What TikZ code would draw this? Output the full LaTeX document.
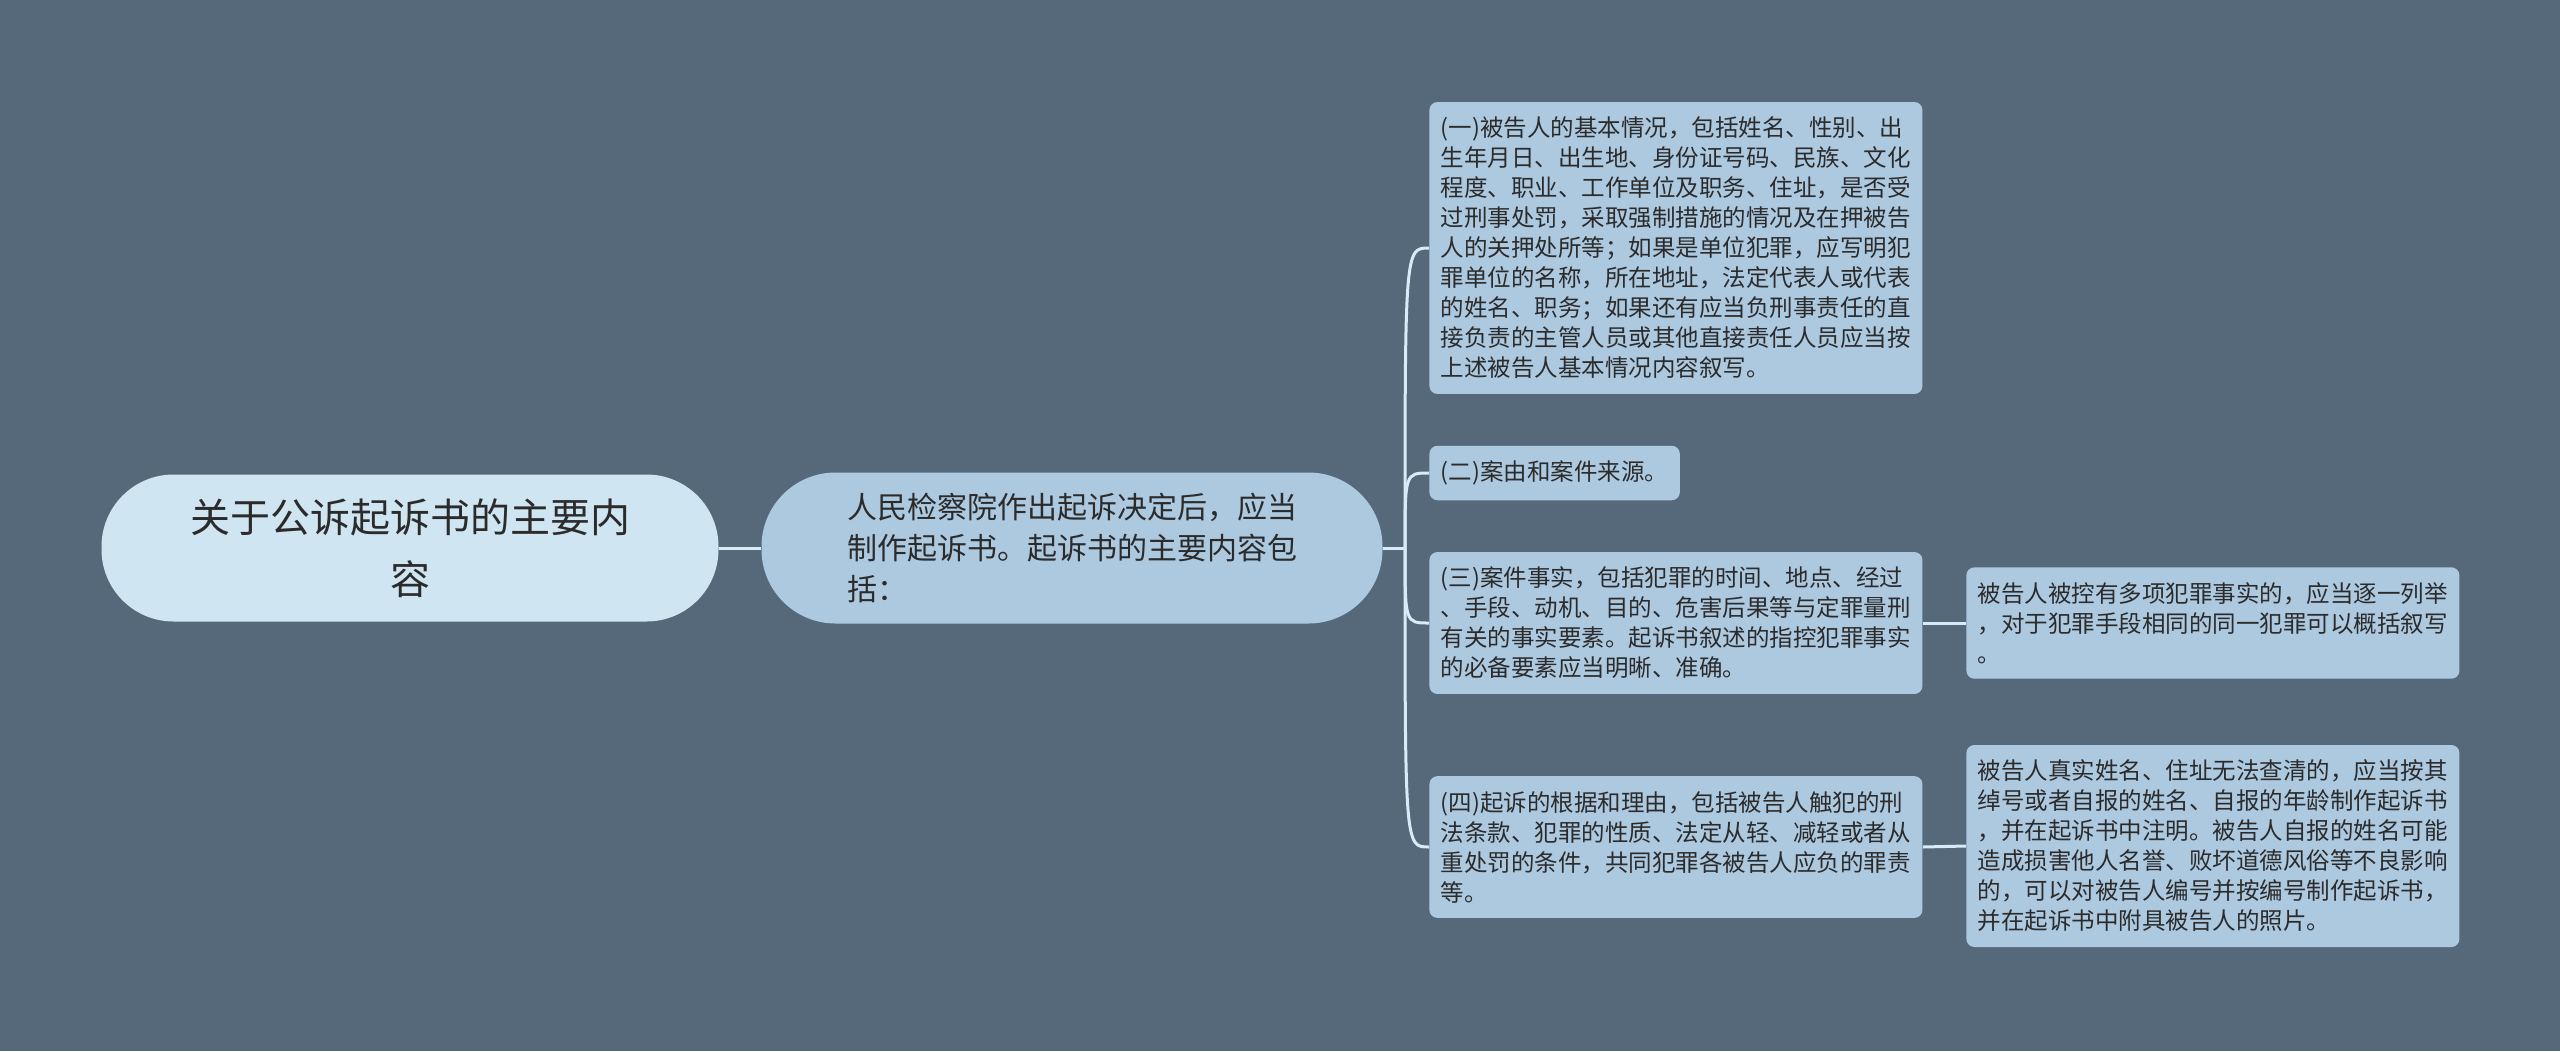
\documentclass[tikz,border=0pt]{standalone}
\usepackage{fontspec}
\setmainfont{Noto Sans CJK SC}
\definecolor{canvas}{HTML}{55697A}
\definecolor{rootfill}{HTML}{CFE5F2}
\definecolor{leaf}{HTML}{ADC9E0}
\definecolor{wire}{HTML}{D6ECF7}
\definecolor{ink}{HTML}{2B2B2B}

\begin{document}
\begin{tikzpicture}[x=0.5pt,y=-0.5pt,
    link/.style={draw=wire,line width=1.5pt},
    topic/.style={fill=leaf,text=ink,rounded corners=4pt,align=left,
      anchor=west,inner xsep=5.75pt,inner ysep=7.5pt,
      font=\fontsize{11.75pt}{15pt}\selectfont},
    hub/.style={fill=leaf,text=ink,rounded corners=37pt,align=left,
      minimum width=310.5pt,minimum height=75.5pt,
      font=\fontsize{15pt}{20.5pt}\selectfont},
    title/.style={fill=rootfill,text=ink,rounded corners=36pt,align=center,
      minimum width=308.5pt,minimum height=73.5pt,
      font=\fontsize{20pt}{31pt}\selectfont}]
\fill [canvas] (0,0) rectangle (2560,1051) ;

\node [title] (root) at (410,548) {关于公诉起诉书的主要内\\容} ;
\node [hub] (mid) at (1072,548)
  {人民检察院作出起诉决定后，应当\\制作起诉书。起诉书的主要内容包\\括：} ;

\node [topic] (one) at (1429,248)
  {(一)被告人的基本情况，包括姓名、性别、出\\
   生年月日、出生地、身份证号码、民族、文化\\
   程度、职业、工作单位及职务、住址，是否受\\
   过刑事处罚，采取强制措施的情况及在押被告\\
   人的关押处所等；如果是单位犯罪，应写明犯\\
   罪单位的名称，所在地址，法定代表人或代表\\
   的姓名、职务；如果还有应当负刑事责任的直\\
   接负责的主管人员或其他直接责任人员应当按\\
   上述被告人基本情况内容叙写。} ;
\node [topic] (two) at (1429,473) {(二)案由和案件来源。} ;
\node [topic] (three) at (1429,623)
  {(三)案件事实，包括犯罪的时间、地点、经过\\
   、手段、动机、目的、危害后果等与定罪量刑\\
   有关的事实要素。起诉书叙述的指控犯罪事实\\
   的必备要素应当明晰、准确。} ;
\node [topic] (four) at (1429,847)
  {(四)起诉的根据和理由，包括被告人触犯的刑\\
   法条款、犯罪的性质、法定从轻、减轻或者从\\
   重处罚的条件，共同犯罪各被告人应负的罪责\\
   等。} ;

\node [topic] (many) at (1966,623)
  {被告人被控有多项犯罪事实的，应当逐一列举\\
   ，对于犯罪手段相同的同一犯罪可以概括叙写\\
   。} ;
\node [topic] (alias) at (1966,846)
  {被告人真实姓名、住址无法查清的，应当按其\\
   绰号或者自报的姓名、自报的年龄制作起诉书\\
   ，并在起诉书中注明。被告人自报的姓名可能\\
   造成损害他人名誉、败坏道德风俗等不良影响\\
   的，可以对被告人编号并按编号制作起诉书，\\
   并在起诉书中附具被告人的照片。} ;

% connectors
\coordinate (fork) at (1405,548) ;
\draw [link] (root.east) -- (mid.west) ;
\draw [link] (mid.east) -- (fork) ;
\foreach \n in {one,two,three,four}
  \draw [link] (fork) .. controls (fork |- \n.west) .. (\n.west) ;
\draw [link] (three.east) -- (many.west) ;
\draw [link] (four.east) -- (alias.west) ;
\end{tikzpicture}
\end{document}
